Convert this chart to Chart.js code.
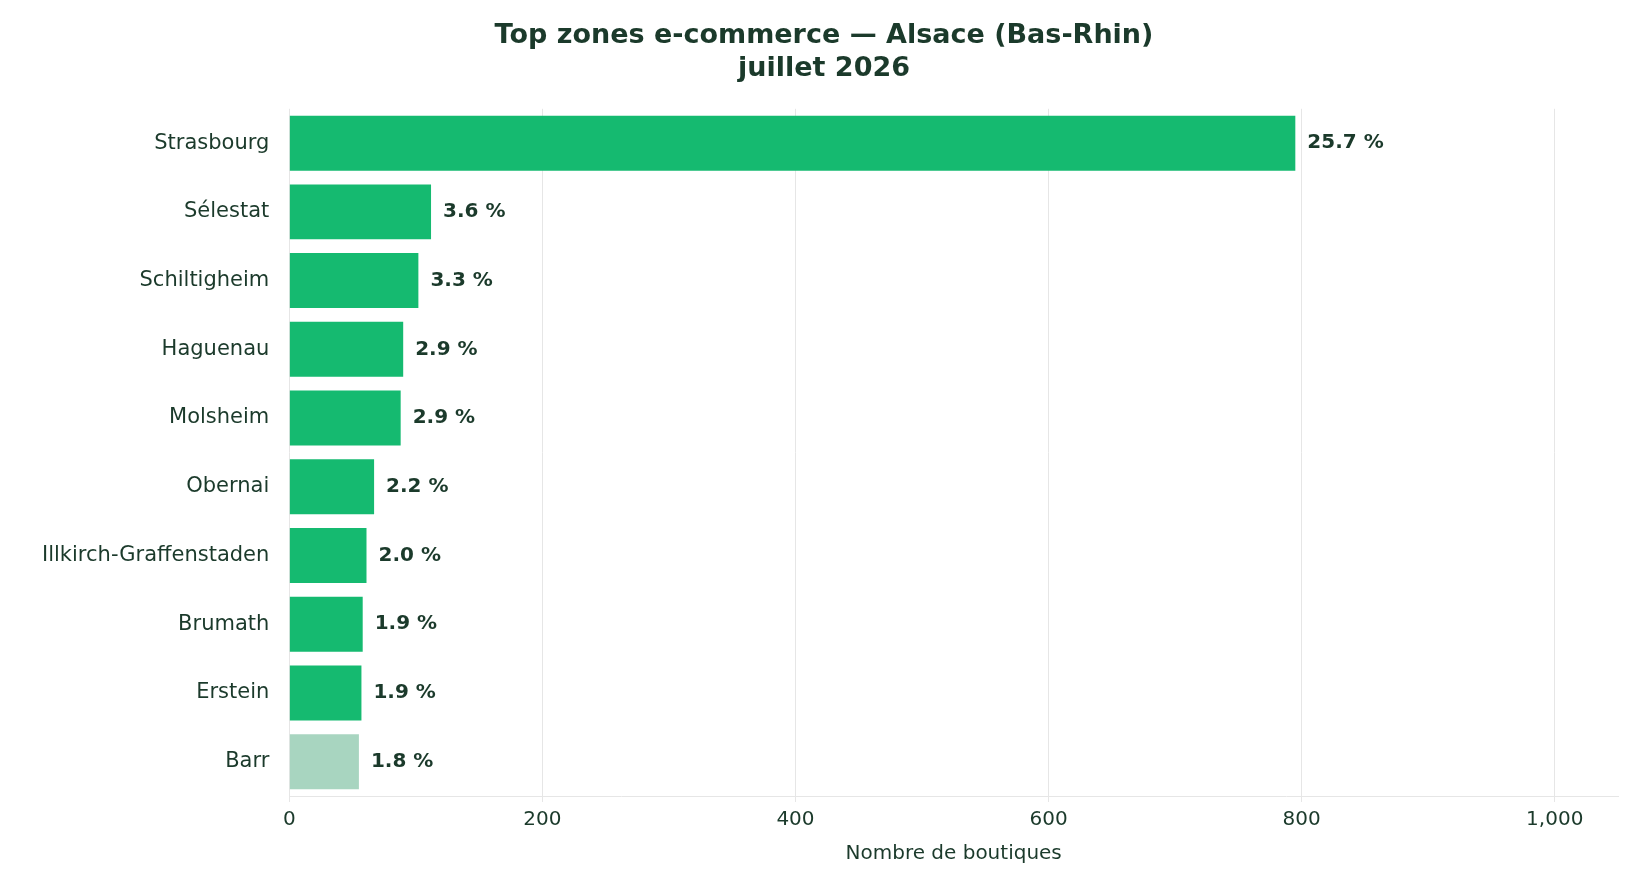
<!DOCTYPE html>
<html><head><meta charset="utf-8">
<script src="https://cdn.jsdelivr.net/npm/chart.js@4/dist/chart.umd.min.js"></script>
<style>html,body{margin:0;background:#fff}#w{width:1634px;height:884px}</style>
</head><body><div id="w"><canvas id="c"></canvas></div>
<script>
const categories=["Strasbourg","Sélestat","Schiltigheim","Haguenau","Molsheim","Obernai","Illkirch-Graffenstaden","Brumath","Erstein","Barr"];
const values=[795,112,102,90,88,67,61,58,57,55];
const shareLabels=["25.7 %","3.6 %","3.3 %","2.9 %","2.9 %","2.2 %","2.0 %","1.9 %","1.9 %","1.8 %"];
const tickValues=[0,200,400,600,800,1000];
const colors=values.map((v,i)=>i===values.length-1?"#a8d5c0":"#15ba70");
const dark="#1b3a2b";
const F="DejaVu Sans";
const labelPlugin={id:"lbl",afterDatasetsDraw(ch){const c=ch.ctx;const m=ch.getDatasetMeta(0);c.save();c.font="bold 20px "+F;c.fillStyle=dark;c.textBaseline="middle";m.data.forEach((b,i)=>{c.fillText(shareLabels[i],b.x+12,b.y);});c.restore();}};
new Chart(document.getElementById("c"),{type:"bar",
data:{labels:categories,datasets:[{data:values,backgroundColor:colors,barPercentage:0.8,categoryPercentage:1}]},
options:{indexAxis:"y",responsive:true,maintainAspectRatio:false,animation:false,
layout:{padding:{left:30,right:16,top:4,bottom:14}},
plugins:{legend:{display:false},tooltip:{enabled:false},
title:{display:true,text:["Top zones e-commerce — Alsace (Bas-Rhin)","juillet 2026"],color:dark,font:{family:F,size:27,weight:"bold"},padding:{top:16,bottom:24},lineHeight:1.35}},
scales:{x:{min:0,max:1050,afterBuildTicks(a){a.ticks=tickValues.map(v=>({value:v}));},ticks:{color:dark,font:{family:F,size:20},padding:6},grid:{color:"#e6e6e6",drawTicks:true,tickLength:6},border:{color:"#e6e6e6"},
title:{display:true,text:"Nombre de boutiques",color:dark,font:{family:F,size:20}}},
y:{ticks:{color:dark,font:{family:F,size:21},padding:12},grid:{display:false},border:{display:false}}}},
plugins:[labelPlugin]});
</script></body></html>
